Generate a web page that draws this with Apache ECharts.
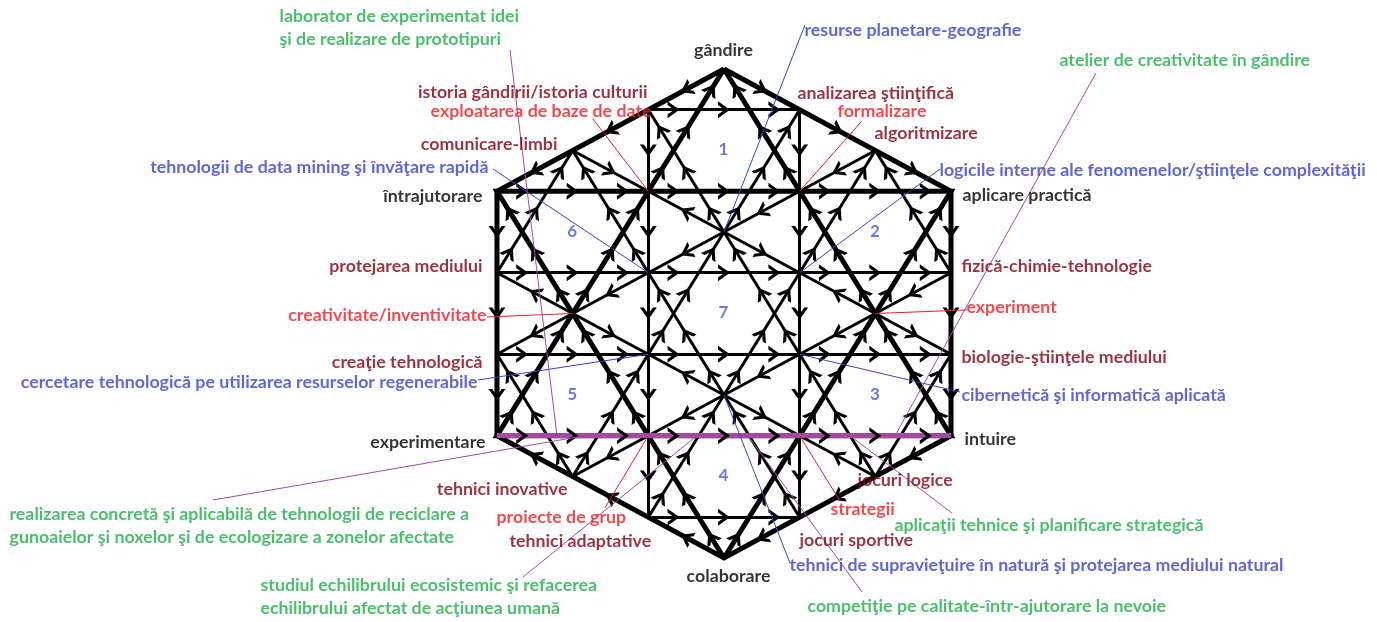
<!DOCTYPE html>
<html><head><meta charset="utf-8">
<script src="https://cdn.jsdelivr.net/npm/echarts@6/dist/echarts.min.js"></script>
<style>html,body{margin:0;padding:0;background:#fff}#c{width:1377px;height:622px}</style>
</head><body><div id="c"></div>
<script>
// ---- structure (lattice units: x = 1/3 hex half-width, y = 1/12 hex height) ----
const subCenters = [[0,2],[2,4],[2,8],[0,10],[-2,8],[-2,4],[0,6]];
const subNames = ['1','2','3','4','5','6','7'];
const hexOffsets = [[0,-2],[1,-1],[1,1],[0,2],[-1,1],[-1,-1]];
const subEdges = [[0,1],[0,5],[1,2],[5,4],[2,3],[3,4]];
const subStars = [[4,2],[4,0],[2,0],[5,1],[3,5],[3,1]];
const bigHex = [[0,0],[3,3],[3,9],[0,12],[-3,9],[-3,3],[0,0]];
const bigTriUp = [[0,0],[3,9],[-3,9],[0,0]];
const bigTriDown = [[0,12],[3,3],[-3,3],[0,12]];
const baseLine = [[-3,9],[3,9]];
const gapEdges = [[[1,1],[2,2]],[[3,5],[3,7]],[[2,10],[1,11]],[[-1,11],[-2,10]],[[-3,5],[-3,7]],[[-1,1],[-2,2]]];
const viewX = [-9.568, 8.630];
const viewY = [-1.693, 13.571];

// ---- text labels ----
const labelTexts = [
 'laborator de experimentat idei\nşi de realizare de prototipuri',
 'gândire','resurse planetare-geografie','atelier de creativitate în gândire',
 'istoria gândirii/istoria culturii','analizarea ştiinţifică','exploatarea de baze de date','formalizare',
 'algoritmizare','comunicare-limbi','tehnologii de data mining şi învăţare rapidă',
 'logicile interne ale fenomenelor/ştiinţele complexităţii','întrajutorare','aplicare practică',
 'protejarea mediului','fizică-chimie-tehnologie','creativitate/inventivitate','experiment',
 'creaţie tehnologică','biologie-ştiinţele mediului','cercetare tehnologică pe utilizarea resurselor regenerabile',
 'cibernetică şi informatică aplicată','experimentare','intuire','tehnici inovative','jocuri logice',
 'realizarea concretă şi aplicabilă de tehnologii de reciclare a\ngunoaielor şi noxelor şi de ecologizare a zonelor afectate',
 'proiecte de grup','strategii','aplicaţii tehnice şi planificare strategică','tehnici adaptative',
 'jocuri sportive','colaborare','tehnici de supravieţuire în natură şi protejarea mediului natural',
 'studiul echilibrului ecosistemic şi refacerea\nechilibrului afectat de acţiunea umană',
 'competiţie pe calitate-într-ajutorare la nevoie'
];
const labelPos = [
 [-5.868,-0.994],[0,-0.442],[1.070,-0.933],[4.440,-0.196],
 [-1.004,0.589],[0.978,0.613],[-0.952,1.055],[1.507,1.055],
 [1.996,1.595],[-2.194,1.865],[-3.106,2.429],
 [2.855,2.503],[-3.185,3.141],[3.159,3.117],
 [-3.185,4.859],[3.145,4.859],[-3.132,6.061],[3.211,5.865],
 [-3.185,7.215],[3.145,7.092],[-3.251,7.706],
 [3.145,8.025],[-3.145,9.178],[3.185,9.104],[-2.062,10.331],[1.771,10.110],
 [-9.436,11.227],
 [-3.0,11.018],[1.414,10.822],[2.260,11.215],[-2.828,11.607],
 [1.004,11.583],[0.066,12.466],[0.872,12.196],
 [-6.119,12.957],
 [1.110,13.202]
];
const labelColorKey = ['g','k','b','g','d','d','r','r','d','d','b','b','k','k','d','d','r','r','d','d','b','b','k','k','d','d','g','r','r','g','d','d','k','b','g','g'];
const labelAlign = ['l','c','l','l','r','l','r','l','l','r','r','l','r','l','r','l','r','l','r','l','r','l','r','l','r','l','l','l','l','l','l','l','c','l','l','l'];
const palette = {k:'#000000', d:'#800010', r:'#ED1C24', b:'#3A40CC', g:'#1FAE48', p:'#A349A4'};

// ---- leader lines ----
const leaderFrom = [[-1.731,1.227],[1.811,1.301],[-3.132,6.086],[2,6],[-1,9],[1,9],
 [1.070,-1.080],[-3.053,2.454],[2.855,2.454],[-3.251,7.632],[1,7],[0,8],
 [-2.828,-0.466],[4.916,0.098],[-6.753,10.577],[-2.656,12.466],[1.824,12.834],[1.665,9]];
const leaderTo = [[-1,3],[1,3],[-2,6],[3.211,5.914],[-1.573,10.773],[1.533,10.601],
 [0,4],[-1,5],[1,5],[-1,7],[3.119,7.926],[0.872,12.123],
 [-2.207,9],[2.260,9],[-1.837,9],[-0.357,9],[0.317,9],[3.013,10.896]];
const leaderColorKey = ['r','r','r','r','r','r','b','b','b','b','b','b','p','p','p','p','p','p'];

const chart = echarts.init(document.getElementById('c'));
const baseOpt = {
  animation:false,
  grid:{left:0,right:0,top:0,bottom:0},
  xAxis:{type:'value',min:viewX[0],max:viewX[1],show:false},
  yAxis:{type:'value',min:viewY[0],max:viewY[1],inverse:true,show:false}
};
chart.setOption(baseOpt);

const thinSegs = [], arrowSegs = [];
subCenters.forEach(c=>{
  const v = hexOffsets.map(o=>[c[0]+o[0], c[1]+o[1]]);
  subEdges.forEach(e=>{ thinSegs.push({coords:[v[e[0]],v[e[1]]]}); arrowSegs.push({a:v[e[0]],b:v[e[1]],ts:[0.5]}); });
  subStars.forEach(e=>{ thinSegs.push({coords:[v[e[0]],v[e[1]]]}); arrowSegs.push({a:v[e[0]],b:v[e[1]],ts:[1/6,0.5,5/6]}); });
});
gapEdges.forEach(g=>arrowSegs.push({a:g[0],b:g[1],ts:[0.5]}));

const arrowData = [];
arrowSegs.forEach(s=>{
  const pa = chart.convertToPixel({gridIndex:0}, s.a), pb = chart.convertToPixel({gridIndex:0}, s.b);
  const ang = Math.atan2(-(pb[1]-pa[1]), pb[0]-pa[0])*180/Math.PI;
  s.ts.forEach(t=>arrowData.push({value:[s.a[0]+t*(s.b[0]-s.a[0]), s.a[1]+t*(s.b[1]-s.a[1])], symbolRotate:ang}));
});

const font = 'Lato';
const textData = labelTexts.map((t,i)=>({
  value: labelPos[i], name: t,
  label:{show:true, formatter:t, position:[0,0], align: labelAlign[i]==='l'?'left':(labelAlign[i]==='r'?'right':'center'),
    verticalAlign:'middle', color: palette[labelColorKey[i]], fontFamily:font, fontWeight:'bold', fontSize:17.8, lineHeight:23}
}));
const numData = subCenters.map((c,i)=>({value:c, name:subNames[i],
  label:{show:true, formatter:subNames[i], position:[0,0], align:'center', verticalAlign:'middle', color:'#4A55D8', fontFamily:font, fontWeight:'bold', fontSize:17}}));

const leaderData = leaderFrom.map((f,i)=>({coords:[f, leaderTo[i]], lineStyle:{color:palette[leaderColorKey[i]], width:1}}));

const thickPoly = [bigHex, bigTriUp, bigTriDown].map(p=>({coords:p}));

chart.setOption({
  series:[
    {type:'lines', coordinateSystem:'cartesian2d', z:1, silent:true, clip:false,
     lineStyle:{color:'#000', width:3, opacity:1}, data:thinSegs},
    {type:'lines', coordinateSystem:'cartesian2d', polyline:true, z:2, silent:true, clip:false,
     lineStyle:{color:'#000', width:5, opacity:1, join:'miter'}, data:thickPoly},
    {type:'lines', coordinateSystem:'cartesian2d', z:3, silent:true, clip:false,
     lineStyle:{color:palette.p, width:5, opacity:1}, data:[{coords:baseLine}]},
    {type:'scatter', z:4, silent:true, clip:false,
     symbol:'path://M0,0L12,8L0,16L0,12.4L6.6,8L0,3.6Z', symbolSize:[12,17],
     itemStyle:{color:'#000', opacity:1}, data:arrowData},
    {type:'lines', coordinateSystem:'cartesian2d', z:5, silent:true, clip:false,
     lineStyle:{width:1, opacity:1}, data:leaderData},
    {type:'scatter', z:6, silent:true, clip:false, symbolSize:1, itemStyle:{color:'rgba(0,0,0,0)'}, data:textData},
    {type:'scatter', z:6, silent:true, clip:false, symbolSize:1, itemStyle:{color:'rgba(0,0,0,0)'}, data:numData}
  ]
});
</script></body></html>
